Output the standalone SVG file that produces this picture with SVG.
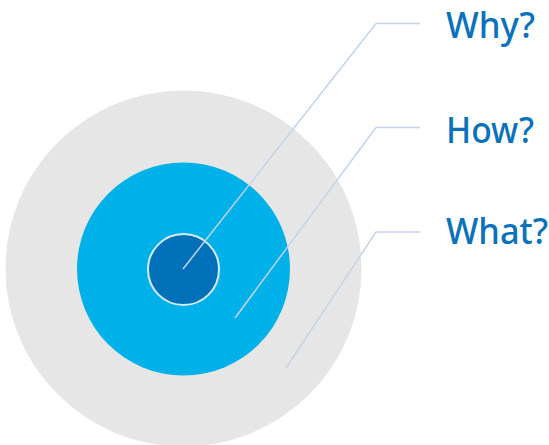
<svg xmlns="http://www.w3.org/2000/svg" width="549" height="445" viewBox="0 0 549 445">
<style>
.lbl{font-family:"Noto Sans","Open Sans","Liberation Sans",sans-serif;font-size:37px;font-weight:500;fill:#0a72ba}
.con{fill:none;stroke:#c3d4ea;stroke-width:1.5}
</style>
<rect width="549" height="445" fill="#ffffff"/>
<g id="what-ring"><circle cx="183.5" cy="268.5" r="178" fill="#e6e6e6"/></g>
<g id="how-ring"><circle cx="183.5" cy="269" r="106.5" fill="#00b0e8"/></g>
<g id="why-core"><circle cx="183.5" cy="269.5" r="35.5" fill="#0071b8" stroke="#d5ecf8" stroke-width="2"/></g>
<g id="connectors">
<polyline class="con" points="183,269 376,23.5 420,23.5"/>
<polyline class="con" points="235,318 376,127.5 420,127.5"/>
<polyline class="con" points="286,368 376,232 420,232"/>
</g>
<g id="why"><text class="lbl" transform="translate(446,37.5) scale(0.94,1)">Why?</text></g>
<g id="how"><text class="lbl" transform="translate(446,142.5) scale(0.91,1)">How?</text></g>
<g id="what"><text class="lbl" transform="translate(446,243.5) scale(0.93,1)">What?</text></g>
</svg>
